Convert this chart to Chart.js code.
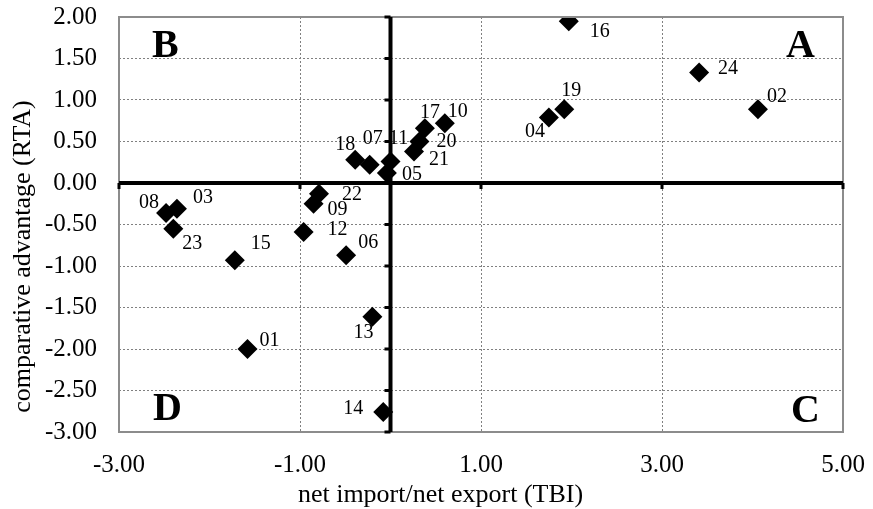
<!DOCTYPE html>
<html>
<head>
<meta charset="utf-8">
<script src="https://cdn.jsdelivr.net/npm/chart.js@4"></script>
<style>
  html, body { margin: 0; background: #fff; }
  #wrap { width: 873px; height: 509px; }
</style>
</head>
<body>
<div id="wrap"><canvas id="quadChart"></canvas></div>
<script>
// sector codes and their position (TBI, RTA)
const codes = ["01", "02", "03", "04", "05", "06", "07", "08", "09", "10", "11", "12",
  "13", "14", "15", "16", "17", "18", "19", "20", "21", "22", "23", "24"];
const tbi = [-1.58, 4.06, -2.36, 1.75, -0.04, -0.49, -0.23, -2.48, -0.85, 0.60, 0.00, -0.96,
  -0.20, -0.08, -1.72, 1.97, 0.38, -0.39, 1.92, 0.32, 0.26, -0.79, -2.40, 3.41];
const rta = [-2.00, 0.89, -0.31, 0.79, 0.12, -0.87, 0.22, -0.36, -0.25, 0.72, 0.26, -0.59,
  -1.61, -2.76, -0.93, 1.95, 0.66, 0.28, 0.89, 0.50, 0.38, -0.13, -0.55, 1.33];
// label offset from its diamond, px
const labelDx = [22, 19, 26, -14, 25, 22, 3, -17, 24, 13, 8, 34,
  -9, -30, 26, 31, 5, -10, 7, 27, 25, 33, 19, 29];
const labelDy = [-8, -12, -11, 14, 2, -12, -26, -10, 6, -11, -23, -2,
  16, -3, -16, 11, -15, -15, -18, 0, 8, 1, 15, -4];

const xTicks = [-3, -1, 1, 3, 5];
const xTitle = "net import/net export (TBI)";
const yTitle = "comparative advantage (RTA)";
const serif = "'Liberation Serif', 'DejaVu Serif', serif";

const quadPlugin = {
  id: "quadPlugin",
  afterDatasetsDraw(chart) {
    const { ctx, chartArea: a, scales } = chart;
    const x0 = scales.x.getPixelForValue(0);
    const y0 = scales.y.getPixelForValue(0);
    ctx.save();
    // frame
    ctx.strokeStyle = "#8c8c8c";
    ctx.lineWidth = 2;
    ctx.strokeRect(a.left, a.top, a.right - a.left, a.bottom - a.top);
    // thick zero axes
    ctx.strokeStyle = "#000";
    ctx.lineWidth = 4;
    ctx.beginPath();
    ctx.moveTo(a.left, y0);
    ctx.lineTo(a.right, y0);
    ctx.moveTo(x0, a.top);
    ctx.lineTo(x0, a.bottom);
    ctx.stroke();
    // small tick marks on the zero axes
    ctx.lineWidth = 3;
    ctx.beginPath();
    xTicks.forEach((v) => {
      const px = scales.x.getPixelForValue(v);
      ctx.moveTo(px, y0);
      ctx.lineTo(px, y0 + 6);
    });
    scales.y.ticks.forEach((t) => {
      const py = scales.y.getPixelForValue(t.value);
      ctx.moveTo(x0, py);
      ctx.lineTo(x0 - 6, py);
    });
    ctx.stroke();
    // point labels
    ctx.fillStyle = "#000";
    ctx.font = "20px " + serif;
    ctx.textAlign = "center";
    ctx.textBaseline = "middle";
    const meta = chart.getDatasetMeta(0);
    meta.data.forEach((pt, i) => {
      ctx.fillText(codes[i], pt.x + labelDx[i], pt.y + labelDy[i]);
    });
    // quadrant letters
    ctx.font = "bold 40px " + serif;
    ctx.textBaseline = "alphabetic";
    ctx.textAlign = "left";
    ctx.fillText("B", a.left + 33, a.top + 40);
    ctx.fillText("D", a.left + 34, a.bottom - 12);
    ctx.textAlign = "right";
    ctx.fillText("A", a.right - 28, a.top + 40);
    ctx.fillText("C", a.right - 23, a.bottom - 10);
    // axis titles, centred on the whole chart like the original
    ctx.font = "26px " + serif;
    ctx.textAlign = "center";
    ctx.textBaseline = "middle";
    ctx.fillText(xTitle, chart.width / 2 + 4, chart.height - 14);
    ctx.translate(23, chart.height / 2 + 2);
    ctx.rotate(-Math.PI / 2);
    ctx.fillText(yTitle, 0, 0);
    ctx.restore();
  },
};

const ctx = document.getElementById("quadChart").getContext("2d");
const quadChart = new Chart(ctx, {
  type: "scatter",
  data: {
    datasets: [
      {
        label: "sectors",
        data: tbi.map((x, i) => ({ x: x, y: rta[i] })),
        pointStyle: "rectRot",
        pointRadius: 10,
        pointHoverRadius: 10,
        backgroundColor: "#000",
        borderColor: "#000",
        borderWidth: 0,
      },
    ],
  },
  options: {
    responsive: true,
    maintainAspectRatio: false,
    animation: false,
    layout: { padding: { top: 17, right: 30, left: 0, bottom: 0 } },
    plugins: { legend: { display: false }, tooltip: { enabled: false } },
    scales: {
      x: {
        type: "linear",
        min: -3,
        max: 5,
        afterBuildTicks: (scale) => {
          scale.ticks = xTicks.map((v) => ({ value: v }));
        },
        afterFit: (scale) => {
          scale.height = 77;
          scale.paddingLeft = 0;
          scale.paddingRight = 0;
        },
        grid: { color: "#808080", lineWidth: 1, drawTicks: false },
        border: { display: false, dash: [2, 2] },
        ticks: {
          padding: 18,
          color: "#000",
          font: { family: serif, size: 25 },
          callback: (v) => Number(v).toFixed(2),
        },
      },
      y: {
        type: "linear",
        min: -3,
        max: 2,
        afterFit: (scale) => {
          scale.width = 119;
          scale.paddingTop = 0;
          scale.paddingBottom = 0;
        },
        grid: { color: "#808080", lineWidth: 1, drawTicks: false },
        border: { display: false, dash: [2, 2] },
        ticks: {
          stepSize: 0.5,
          padding: 22,
          color: "#000",
          font: { family: serif, size: 25 },
          callback: (v) => Number(v).toFixed(2),
        },
      },
    },
  },
  plugins: [quadPlugin],
});
</script>
</body>
</html>
